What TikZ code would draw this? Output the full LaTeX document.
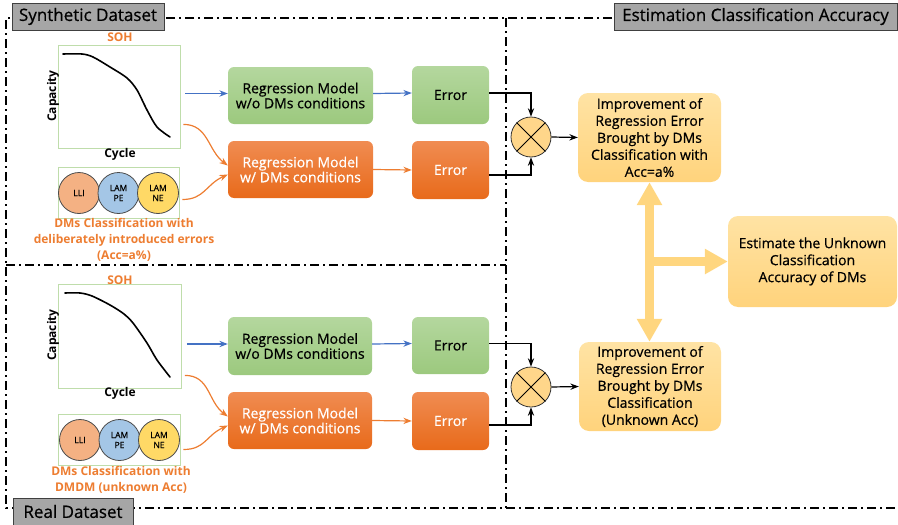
\documentclass[tikz,border=0pt]{standalone}
\usepackage{fontspec}
\setmainfont{Open Sans}[UprightFeatures={FakeBold=0.6}]
\usepackage{tikz}
\usetikzlibrary{arrows.meta,calc}

\definecolor{ordm}{HTML}{ED7D31}
\definecolor{bluearr}{HTML}{4472C4}
\definecolor{greenT}{HTML}{B4D79E}
\definecolor{greenB}{HTML}{9CC97E}
\definecolor{orangeT}{HTML}{F08C52}
\definecolor{orangeB}{HTML}{E86A1A}
\definecolor{yellowT}{HTML}{FFE3A4}
\definecolor{yellowB}{HTML}{FFD37C}
\definecolor{bigarr}{HTML}{FFD67F}
\definecolor{taggray}{HTML}{A6A6A6}
\definecolor{frgreen}{HTML}{BFDDAB}
\definecolor{lli}{HTML}{F4B183}
\definecolor{lampe}{HTML}{A4C6E6}
\definecolor{lamne}{HTML}{FFD966}
\definecolor{mulfill}{HTML}{FFD68A}

\begin{document}
\begin{tikzpicture}[x=1pt, y=-1pt, >=Stealth,
    panelline/.style={line width=1.4pt, dash pattern=on 9pt off 4pt on 2pt off 4pt},
    titletag/.style={draw=black!75, fill=taggray, line width=0.8pt, inner sep=0pt, minimum height=27, font=\fontsize{17}{19}\selectfont},
    greenbox/.style={rounded corners=6pt, top color=greenT, bottom color=greenB, align=center, font=\fontsize{14}{15}\selectfont},
    orangebox/.style={rounded corners=6pt, top color=orangeT, bottom color=orangeB, text=white, align=center, font=\fontsize{14}{15}\selectfont},
    yellowbox/.style={rounded corners=10pt, top color=yellowT, bottom color=yellowB, align=center, font=\fontsize{14}{17}\selectfont},
    plotframe/.style={draw=frgreen, line width=0.8pt, inner sep=0pt},
    dmcircle/.style={circle, draw=black!70, line width=0.8pt, minimum size=41, inner sep=0pt, align=center, font=\fontsize{8.5}{10}\selectfont},
    mulnode/.style={circle, draw=black!80, fill=mulfill, line width=0.8pt, minimum size=40, inner sep=0pt},
    sohtext/.style={text=ordm, font=\bfseries\fontsize{12}{14}\selectfont},
    captext/.style={text=ordm, align=center, font=\bfseries\fontsize{12}{16}\selectfont},
    axislabel/.style={font=\bfseries\fontsize{12}{14}\selectfont},
    sohcurve/.style={line width=1.6pt, line cap=round},
    bluearrow/.style={->, draw=bluearr, line width=1.2pt},
    orangearrow/.style={->, draw=ordm, line width=1.2pt},
    blackarrow/.style={->, line width=1.2pt},
    bigarrow/.style={draw=bigarr, line width=9pt}
  ]
  \useasboundingbox (0,0) rectangle (898,525);

  % Panel borders
  \draw[panelline] (897,18) -- (6,18) -- (6,508) -- (898,508);
  \draw[panelline] (506,18) -- (506,508);
  \draw[panelline] (6,265) -- (506,265);

  % Synthetic dataset
  \node[sohtext] (sohA) at (120,37) {SOH};
  \node[plotframe, minimum width=122, minimum height=103] (plotA) at (119,96.5) {};
  \draw[sohcurve] plot[smooth] coordinates {(63,54) (82,54) (93,57) (110,67) (127,78) (137,90) (147,110) (157,127) (170,137)};
  \node[axislabel, rotate=90] (capA) at (53,96) {Capacity};
  \node[axislabel] (cycA) at (120,154) {Cycle};
  \node[plotframe, minimum width=121, minimum height=51] (dmA) at (118.5,192.5) {};
  \node[dmcircle, fill=lli] (lliA) at (79,193) {LLI};
  \node[dmcircle, fill=lampe] (peA) at (118.5,193) {LAM\\PE};
  \node[dmcircle, fill=lamne] (neA) at (158,193) {LAM\\NE};
  \node[captext] (capnA) at (124,240) {DMs Classification with\\deliberately introduced errors\\(Acc=a\%)};

  \node[greenbox, minimum width=145, minimum height=57] (regA) at (300.5,95.5) {Regression Model\\w/o DMs conditions};
  \node[greenbox, minimum width=77, minimum height=58] (errA) at (450.5,95) {Error};
  \node[orangebox, minimum width=145, minimum height=57] (regB) at (300.5,169.5) {Regression Model\\w/ DMs conditions};
  \node[orangebox, minimum width=77, minimum height=58] (errB) at (450.5,170) {Error};

  \draw[bluearrow] ($(plotA.east |- regA.west)+(5,-2)$) -- ($(regA.west)+(0,-2)$);
  \draw[bluearrow] ($(regA.east)+(0,-2)$) -- ($(errA.west)+(0,-2)$);
  \draw[orangearrow] ($(plotA.south east)+(3,-24)$) .. controls +(25,0) and +(-20,-15) .. ($(regB.west)+(0,-4)$);
  \draw[orangearrow] ($(dmA.east)+(3,7)$) .. controls +(22,0) and +(-22,10) .. ($(regB.west)+(0,5)$);
  \draw[orangearrow] (regB.east) -- (errB.west);

  % Real dataset
  \node[sohtext] (sohB) at (120,280) {SOH};
  \node[plotframe, minimum width=123, minimum height=104] (plotB) at (120,336) {};
  \draw[sohcurve] plot[smooth] coordinates {(65,293) (80,293) (92,296) (110,305) (124,314) (133,323) (147,343) (157,360) (170,377)};
  \node[axislabel, rotate=90] (capB) at (53,335) {Capacity};
  \node[axislabel] (cycB) at (120,393) {Cycle};
  \node[plotframe, minimum width=122, minimum height=51] (dmB) at (119,439.5) {};
  \node[dmcircle, fill=lli] (lliB) at (80,440) {LLI};
  \node[dmcircle, fill=lampe] (peB) at (119.5,440) {LAM\\PE};
  \node[dmcircle, fill=lamne] (neB) at (159,440) {LAM\\NE};
  \node[captext] (capnB) at (121,480) {DMs Classification with\\DMDM (unknown Acc)};

  \node[greenbox, minimum width=144, minimum height=58] (regC) at (300,346) {Regression Model\\w/o DMs conditions};
  \node[greenbox, minimum width=77, minimum height=57] (errC) at (450.5,345.5) {Error};
  \node[orangebox, minimum width=144, minimum height=57] (regD) at (300,420.5) {Regression Model\\w/ DMs conditions};
  \node[orangebox, minimum width=77, minimum height=58] (errD) at (450.5,421) {Error};

  \draw[bluearrow] ($(plotB.east |- regC.west)+(5,-2)$) -- ($(regC.west)+(0,-2)$);
  \draw[bluearrow] ($(regC.east)+(0,-2)$) -- ($(errC.west)+(0,-2)$);
  \draw[orangearrow] ($(plotB.south east)+(3,-13)$) .. controls +(25,0) and +(-20,-15) .. ($(regD.west)+(0,-4)$);
  \draw[orangearrow] ($(dmB.east)+(3,10)$) .. controls +(22,0) and +(-22,10) .. ($(regD.west)+(0,5)$);
  \draw[orangearrow] (regD.east) -- (errD.west);

  % Estimation
  \node[mulnode] (mulA) at (531,137) {};
  \node[mulnode] (mulB) at (531,387) {};
  \draw[line width=0.8pt] (mulA.north west) -- (mulA.south east) (mulA.north east) -- (mulA.south west);
  \draw[line width=0.8pt] (mulB.north west) -- (mulB.south east) (mulB.north east) -- (mulB.south west);

  \node[yellowbox, minimum width=143, minimum height=89] (impA) at (649.5,137.5) {Improvement of\\Regression Error\\Brought by DMs\\Classification with\\Acc=a\%};
  \node[yellowbox, minimum width=142, minimum height=89] (impB) at (650,386.5) {Improvement of\\Regression Error\\Brought by DMs\\Classification\\(Unknown Acc)};
  \node[yellowbox, minimum width=169, minimum height=91] (est) at (812.5,261.5) {Estimate the Unknown\\Classification\\Accuracy of DMs};

  \draw[blackarrow] ($(errA.east)+(0,-2)$) -| (mulA.north);
  \draw[blackarrow] ($(errB.east)+(0,5)$) -| (mulA.south);
  \draw[blackarrow] ($(errC.east)+(0,-2)$) -| (mulB.north);
  \draw[blackarrow] ($(errD.east)+(0,4)$) -| (mulB.south);
  \draw[blackarrow] (mulA.east) -- (impA.west);
  \draw[blackarrow] (mulB.east) -- (impB.west);

  % Big arrows
  \coordinate (fork) at (impA.south |- est.west);
  \draw[bigarrow, {Triangle[width=24pt,length=23pt]}-{Triangle[width=24pt,length=23pt]}] (impA.south) -- (impA.south |- impB.north);
  \draw[bigarrow, -{Triangle[width=24pt,length=23pt]}] (fork) -- (est.west);

  % Titles
  \node[titletag, minimum width=152] (synth) at (88,16.5) {Synthetic Dataset};
  \node[titletag, minimum width=283] (estim) at (755.5,16.5) {Estimation Classification Accuracy};
  \node[titletag, minimum width=120] (real) at (73,511.5) {Real Dataset};
\end{tikzpicture}
\end{document}
